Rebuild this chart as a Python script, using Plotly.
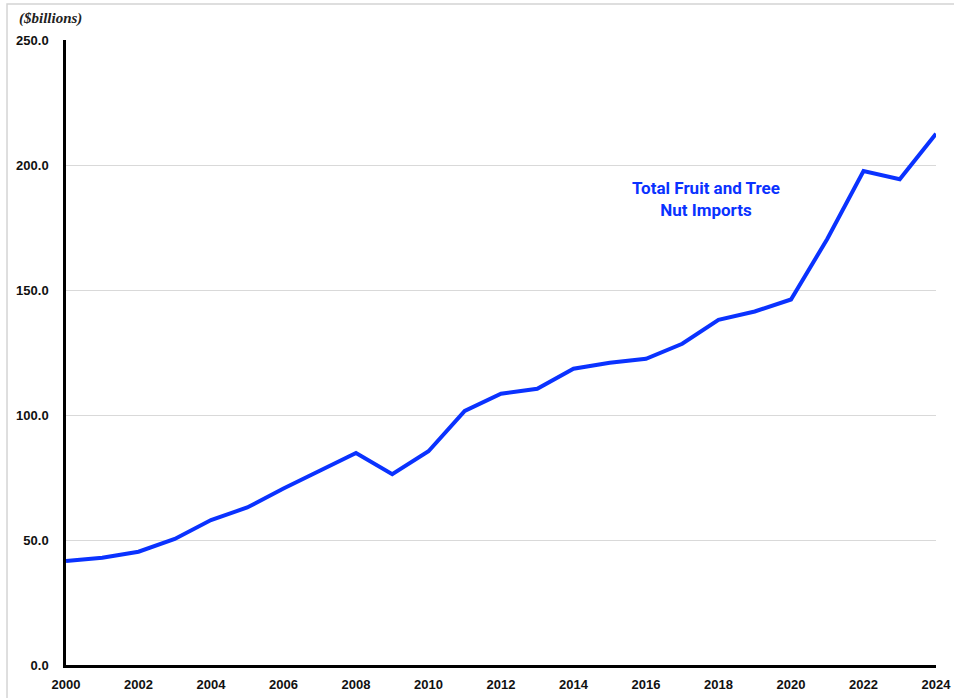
import plotly.graph_objects as go

# Total fruit and tree nut imports, $ billions
years = list(range(2000, 2025))
imports_bn = [41.6, 42.9, 45.3, 50.4, 58.0, 63.0, 70.6, 77.9, 84.8, 76.3,
              85.5, 101.6, 108.5, 110.5, 118.5, 120.9, 122.5, 128.5, 138.1, 141.4,
              146.2, 170.4, 197.6, 194.3, 212.5]

x_ticks = list(range(2000, 2025, 2))
y_ticks = [0, 50, 100, 150, 200, 250]
y_tick_text = [f"{v:.1f}" for v in y_ticks]

BLUE = "#0A32FF"
TICK_FONT = dict(size=13, family="Liberation Sans, Arial, sans-serif", weight="bold", color="#111")

fig = go.Figure()
fig.add_trace(go.Scatter(
    x=years, y=imports_bn, mode="lines",
    line=dict(color=BLUE, width=4),
    hoverinfo="x+y", showlegend=False,
))

fig.update_layout(
    width=954, height=698,
    margin=dict(l=66, r=18, t=40, b=33),
    paper_bgcolor="white", plot_bgcolor="white",
    font=dict(family="Liberation Sans, Arial, sans-serif", color="black"),
    xaxis=dict(
        range=[2000, 2024], tickvals=x_ticks, ticktext=[str(t) for t in x_ticks],
        showgrid=False, zeroline=False, showline=True, linecolor="black", linewidth=3,
        ticks="", ticklabelstandoff=5, automargin=False,
        tickfont=TICK_FONT,
    ),
    yaxis=dict(
        range=[0, 250], tickvals=y_ticks, ticktext=y_tick_text,
        showgrid=True, gridcolor="#d9d9d9", gridwidth=1,
        zeroline=False, showline=True, linecolor="black", linewidth=2.5,
        ticks="", ticklabelstandoff=12, automargin=False,
        tickfont=TICK_FONT,
    ),
    shapes=[dict(
        type="rect", xref="paper", yref="paper",
        x0=-0.0678, x1=1.2, y0=-0.2, y1=1.0575,
        line=dict(color="#d4d4d4", width=1.5), fillcolor="rgba(0,0,0,0)", layer="below",
    )],
    annotations=[
        dict(
            text="<b><i>($billions)</i></b>", xref="paper", yref="paper",
            x=-0.0563, y=1.034, xanchor="left", yanchor="middle", showarrow=False,
            font=dict(family="Liberation Serif, Times New Roman, serif", size=15, color="#222"),
        ),
        dict(
            text="<b>Total Fruit and Tree<br>Nut Imports</b>", xref="x", yref="y",
            x=2017.66, y=186.5, xanchor="center", yanchor="middle", showarrow=False,
            align="center",
            font=dict(family="Roboto, sans-serif", size=17, color=BLUE),
        ),
    ],
)

fig.write_html("out.html")
